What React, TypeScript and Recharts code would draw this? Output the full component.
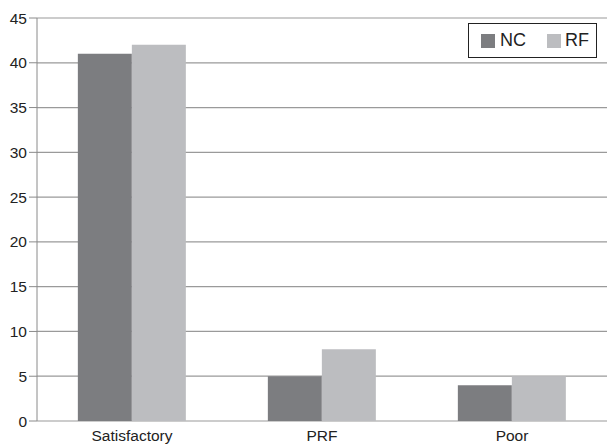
import { BarChart, Bar, XAxis, YAxis, CartesianGrid } from 'recharts';

const categories = ['Satisfactory', 'PRF', 'Poor'];
const ncValues = [41, 5, 4];
const rfValues = [42, 8, 5];
const yTicks = [0, 5, 10, 15, 20, 25, 30, 35, 40, 45];
const boundaryTicks = [0, 1, 2, 3];

const data = categories.map((name, i) => ({ name, NC: ncValues[i], RF: rfValues[i] }));

const NC_COLOR = '#7c7d80';
const RF_COLOR = '#bcbdc0';

// legend drawn as an overlay so it doesn't shrink the plot area
function LegendBox() {
  return (
    <div
      style={{
        position: 'absolute',
        left: 468,
        top: 23,
        border: '1.5px solid #222',
        width: 129,
        height: 35,
        boxSizing: 'border-box',
        display: 'flex',
        alignItems: 'center',
        paddingLeft: 12,
        fontFamily: '"Liberation Sans", Arial, sans-serif',
        fontSize: 18,
        color: '#222',
        background: '#fff',
      }}
    >
      <div style={{ width: 14, height: 14, background: NC_COLOR, marginRight: 5 }} />
      <span style={{ marginRight: 21 }}>NC</span>
      <div style={{ width: 14, height: 14, background: RF_COLOR, marginRight: 4 }} />
      <span>RF</span>
    </div>
  );
}

export default function App() {
  return (
    <div style={{ position: 'absolute', left: 0, top: 0, width: 607, height: 447, background: '#fff' }}>
      <BarChart
        width={607}
        height={447}
        data={data}
        margin={{ top: 18, right: 0, bottom: 0, left: 0 }}
        barCategoryGap="21.5%"
        barGap={0}
        style={{ fontFamily: '"Liberation Sans", Arial, sans-serif' }}
      >
        <CartesianGrid vertical={false} stroke="#9a9a9a" strokeWidth={1.2} />
        <XAxis
          xAxisId="bounds"
          type="number"
          domain={[0, 3]}
          ticks={boundaryTicks}
          height={0}
          stroke="#8a8a8a"
          tickSize={6}
          tick={() => <g />}
        />
        <XAxis
          dataKey="name"
          height={26}
          axisLine={false}
          tickLine={false}
          tickSize={0}
          tickMargin={9}
          tick={{ fill: '#222', fontSize: 15.5 }}
        />
        <YAxis
          width={37}
          domain={[0, 45]}
          ticks={yTicks}
          interval={0}
          stroke="#8a8a8a"
          tickSize={8}
          tickMargin={2}
          tick={{ fill: '#222', fontSize: 15.5 }}
        />
        <Bar dataKey="NC" fill={NC_COLOR} isAnimationActive={false} />
        <Bar dataKey="RF" fill={RF_COLOR} isAnimationActive={false} />
      </BarChart>
      <LegendBox />
    </div>
  );
}
